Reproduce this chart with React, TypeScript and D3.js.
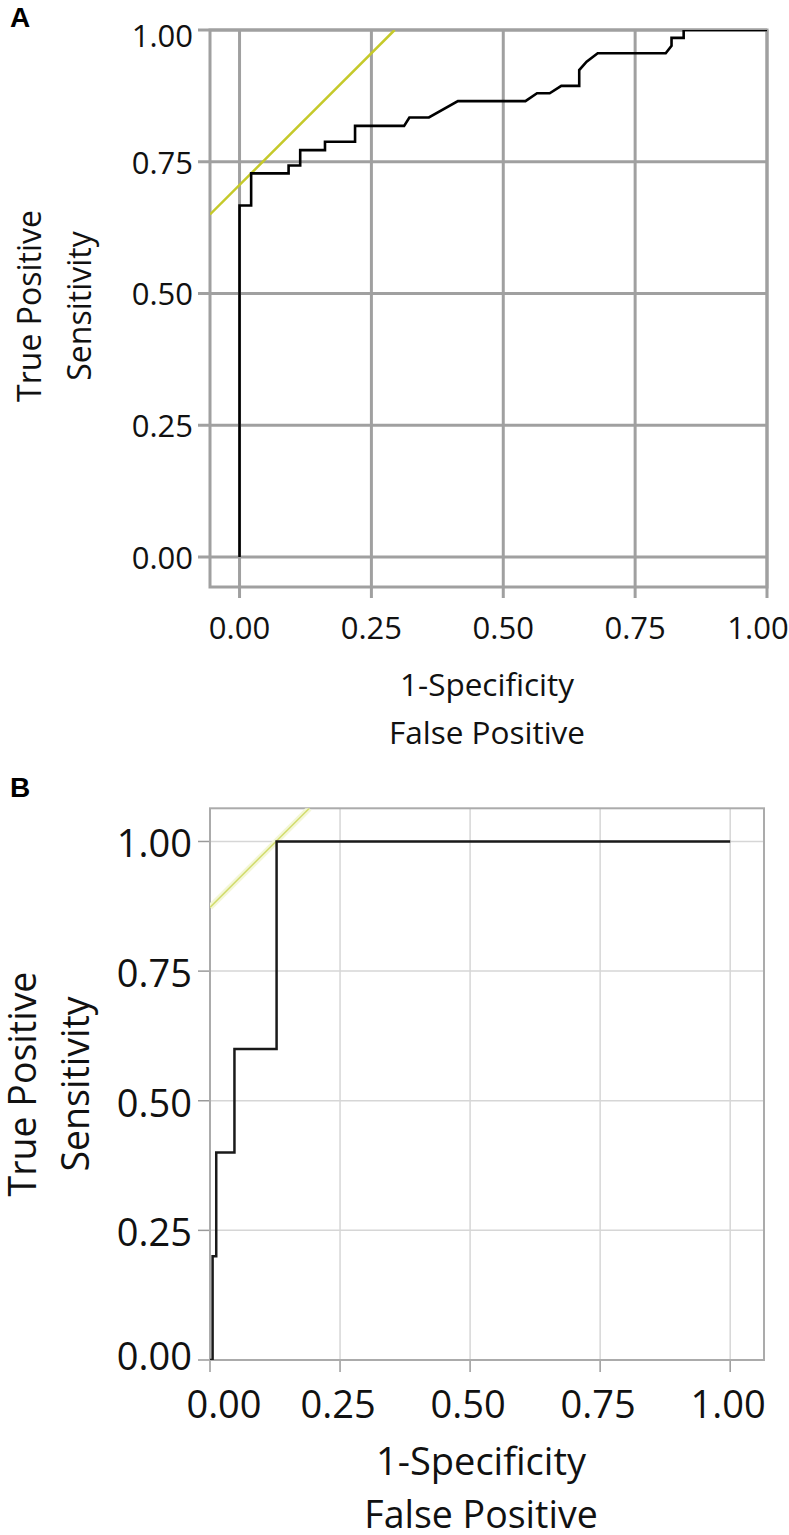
import React from "react";
import * as d3 from "d3";

// ---------- data ----------
const tickValues = [0, 0.25, 0.5, 0.75, 1];
const tickLabels = ["0.00", "0.25", "0.50", "0.75", "1.00"];

// Panel A ROC curve (1-Specificity, Sensitivity)
const rocAFpr = [0, 0, 0.022, 0.022, 0.093, 0.093, 0.115, 0.115, 0.162, 0.162, 0.219, 0.219, 0.312, 0.322, 0.359, 0.414, 0.542, 0.564, 0.588, 0.61, 0.644, 0.644, 0.658, 0.679, 0.808, 0.819, 0.819, 0.842, 0.842, 1];
const rocATpr = [0, 0.667, 0.667, 0.728, 0.728, 0.743, 0.743, 0.772, 0.772, 0.788, 0.788, 0.818, 0.818, 0.834, 0.834, 0.865, 0.865, 0.88, 0.88, 0.894, 0.894, 0.924, 0.94, 0.956, 0.956, 0.97, 0.985, 0.985, 1, 1];

// Panel B ROC curve
const rocBFpr = [0, 0.005, 0.005, 0.012, 0.012, 0.047, 0.047, 0.128, 0.128, 1];
const rocBTpr = [0, 0, 0.2, 0.2, 0.4, 0.4, 0.6, 0.6, 1, 1];

// Youden tangent line intercepts (slope 1)
const youdenA = 0.706;
const youdenB = 0.873;

const FONT = "'Open Sans', 'Noto Sans', sans-serif";

function youdenPoints(b: number, xDom: number[], yDom: number[]) {
  const x0 = xDom[0];
  const x1 = yDom[1] - b;
  return [
    [x0, x0 + b],
    [x1, x1 + b],
  ];
}

function PanelA() {
  const x = d3.scaleLinear().domain([-0.056, 1]).range([210, 767]);
  const y = d3.scaleLinear().domain([-0.057, 1]).range([587, 30]);
  const grid = "#a0a0a0";
  const pts = rocAFpr.map((f, i) => [f, rocATpr[i]] as [number, number]);
  const line = d3.line<[number, number]>().x((d) => x(d[0])).y((d) => y(d[1]));
  const yl = youdenPoints(youdenA, x.domain(), y.domain()) as [number, number][];
  const [x0, x1] = x.range();
  const [y0, y1] = y.range();
  return (
    <g>
      <defs>
        <clipPath id="clipA">
          <rect x={x0} y={y1} width={x1 - x0} height={y0 - y1} />
        </clipPath>
      </defs>
      <text x={10} y={27} fontFamily="'Liberation Sans', Arial, sans-serif" fontWeight="bold" fontSize={28}>A</text>
      {tickValues.map((v) => (
        <line key={"vx" + v} x1={x(v)} x2={x(v)} y1={y1} y2={y0 + 11} stroke={grid} strokeWidth={3} />
      ))}
      {tickValues.map((v) => (
        <line key={"hy" + v} x1={x0 - 12} x2={x1} y1={y(v)} y2={y(v)} stroke={grid} strokeWidth={3} />
      ))}
      <rect x={x0} y={y1} width={x1 - x0} height={y0 - y1} fill="none" stroke={grid} strokeWidth={3} />
      <g clipPath="url(#clipA)">
        <line x1={x(yl[0][0])} y1={y(yl[0][1])} x2={x(yl[1][0])} y2={y(yl[1][1])} stroke="#c5c92a" strokeWidth={2.5} />
        <path d={line(pts) || ""} fill="none" stroke="#000" strokeWidth={2.6} />
      </g>
      {tickValues.map((v, i) => (
        <text key={"ly" + v} x={193} y={y(v) + (v === 1 ? 5 : 0)} textAnchor="end" dominantBaseline="central" fontFamily={FONT} fontSize={31} fill="#111">
          {tickLabels[i]}
        </text>
      ))}
      {tickValues.map((v, i) => (
        <text key={"lx" + v} x={x(v) + (v === 1 ? -9 : 0)} y={639} textAnchor="middle" fontFamily={FONT} fontSize={31} fill="#111">
          {tickLabels[i]}
        </text>
      ))}
      <text x={487} y={696} textAnchor="middle" fontFamily={FONT} fontSize={31.5} fill="#111">1-Specificity</text>
      <text x={487} y={744} textAnchor="middle" fontFamily={FONT} fontSize={31.5} fill="#111">False Positive</text>
      <text transform="translate(41,306) rotate(-90)" textAnchor="middle" fontFamily={FONT} fontSize={32} fill="#111">True Positive</text>
      <text transform="translate(91,306) rotate(-90)" textAnchor="middle" fontFamily={FONT} fontSize={32} fill="#111">Sensitivity</text>
    </g>
  );
}

function PanelB() {
  const x = d3.scaleLinear().domain([0, 1.065]).range([210, 764]);
  const y = d3.scaleLinear().domain([0, 1.064]).range([1360, 808.3]);
  const pts = rocBFpr.map((f, i) => [f, rocBTpr[i]] as [number, number]);
  const line = d3.line<[number, number]>().x((d) => x(d[0])).y((d) => y(d[1]));
  const yl = youdenPoints(youdenB, x.domain(), y.domain()) as [number, number][];
  const [x0, x1] = x.range();
  const [y0, y1] = y.range();
  return (
    <g>
      <defs>
        <clipPath id="clipB">
          <rect x={x0} y={y1} width={x1 - x0} height={y0 - y1} />
        </clipPath>
      </defs>
      <text x={10} y={797} fontFamily="'Liberation Sans', Arial, sans-serif" fontWeight="bold" fontSize={28}>B</text>
      {tickValues.map((v) => (
        <line key={"vx" + v} x1={x(v)} x2={x(v)} y1={y1} y2={y0} stroke="#d6d6d6" strokeWidth={1.5} />
      ))}
      {tickValues.map((v) => (
        <line key={"hy" + v} x1={x0} x2={x1} y1={y(v)} y2={y(v)} stroke="#d6d6d6" strokeWidth={1.5} />
      ))}
      {tickValues.map((v) => (
        <line key={"tx" + v} x1={x(v)} x2={x(v)} y1={y0} y2={y0 + 12} stroke="#9a9a9a" strokeWidth={1.5} />
      ))}
      {tickValues.map((v) => (
        <line key={"ty" + v} x1={x0 - 12} x2={x0} y1={y(v)} y2={y(v)} stroke="#9a9a9a" strokeWidth={1.5} />
      ))}
      <rect x={x0} y={y1} width={x1 - x0} height={y0 - y1} fill="none" stroke="#ababab" strokeWidth={2} />
      <g clipPath="url(#clipB)">
        <line x1={x(yl[0][0])} y1={y(yl[0][1])} x2={x(yl[1][0])} y2={y(yl[1][1])} stroke="#f4f7d8" strokeWidth={6} />
        <line x1={x(yl[0][0])} y1={y(yl[0][1])} x2={x(yl[1][0])} y2={y(yl[1][1])} stroke="#d2dc6e" strokeWidth={1.6} />
        <path d={line(pts) || ""} fill="none" stroke="#1a1a1a" strokeWidth={2.5} />
      </g>
      {tickValues.map((v, i) => (
        <text key={"ly" + v} x={192} y={y(v) + (v === 0 ? -5 : 1)} textAnchor="end" dominantBaseline="central" fontFamily={FONT} fontSize={38} fill="#111">
          {tickLabels[i]}
        </text>
      ))}
      {tickValues.map((v, i) => (
        <text key={"lx" + v} x={x(v) + (v === 0 ? 14 : -2)} y={1418} textAnchor="middle" fontFamily={FONT} fontSize={38} fill="#111">
          {tickLabels[i]}
        </text>
      ))}
      <text x={481} y={1475} textAnchor="middle" fontFamily={FONT} fontSize={38} fill="#111">1-Specificity</text>
      <text x={481} y={1528} textAnchor="middle" fontFamily={FONT} fontSize={37.5} fill="#111">False Positive</text>
      <text transform="translate(36,1084) rotate(-90)" textAnchor="middle" fontFamily={FONT} fontSize={37.5} fill="#111">True Positive</text>
      <text transform="translate(89,1084) rotate(-90)" textAnchor="middle" fontFamily={FONT} fontSize={37.5} fill="#111">Sensitivity</text>
    </g>
  );
}

export default function App() {
  return (
    <svg
      width={789}
      height={1535}
      viewBox="0 0 789 1535"
      style={{ position: "absolute", left: 0, top: 0, display: "block", background: "#fff" }}
    >
      <rect x={0} y={0} width={789} height={1535} fill="#fff" />
      <PanelA />
      <PanelB />
    </svg>
  );
}
